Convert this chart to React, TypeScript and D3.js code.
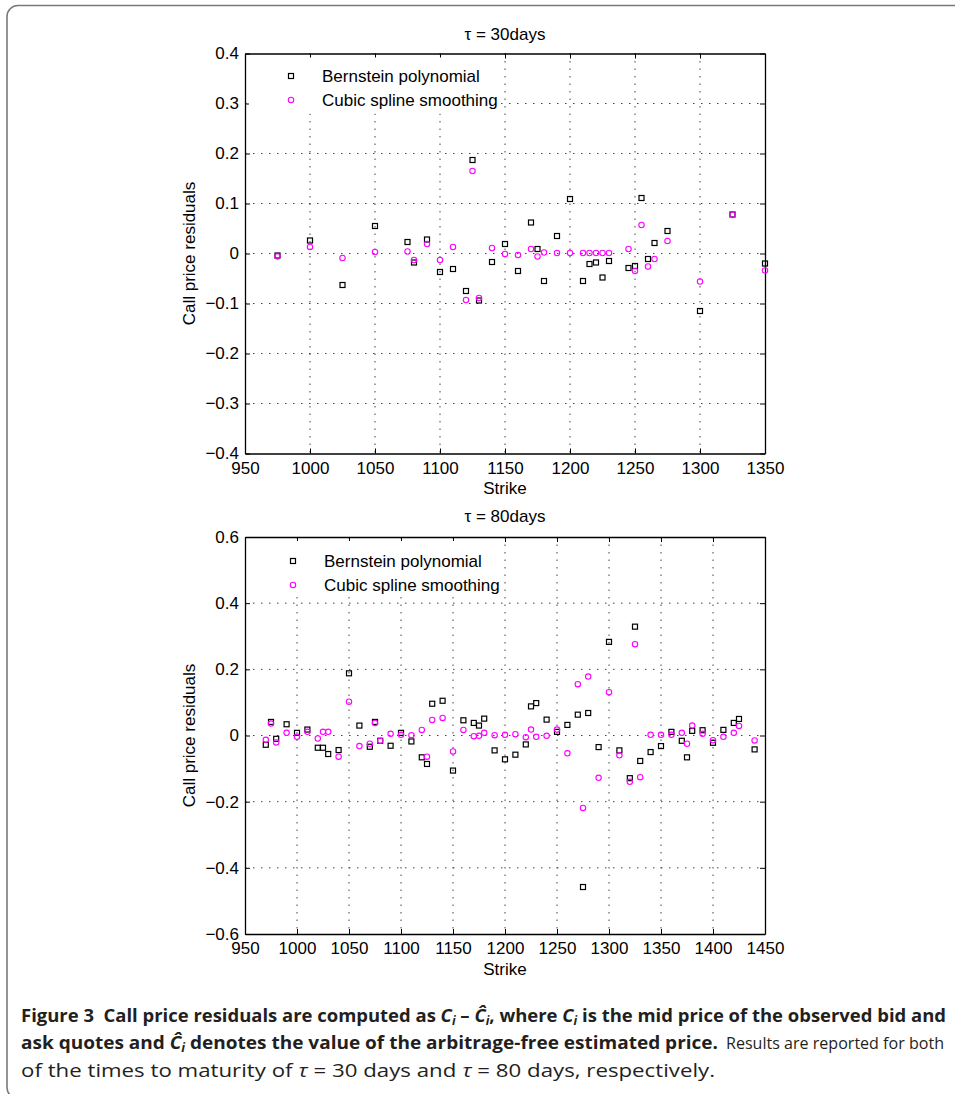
import React, { useEffect, useRef } from "react";
import * as d3 from "d3";

// tau = 30 days
const strikes30 = [975, 1000, 1025, 1050, 1075, 1080, 1090, 1100, 1110, 1120, 1125, 1130, 1140, 1150, 1160, 1170, 1175, 1180, 1190, 1200, 1210, 1215, 1220, 1225, 1230, 1245, 1250, 1255, 1260, 1265, 1275, 1300, 1325, 1350];
const bernstein30 = [-0.004, 0.026, -0.063, 0.055, 0.023, -0.018, 0.028, -0.037, -0.031, -0.075, 0.187, -0.094, -0.017, 0.019, -0.035, 0.062, 0.009, -0.055, 0.035, 0.109, -0.055, -0.021, -0.018, -0.048, -0.015, -0.029, -0.025, 0.111, -0.011, 0.021, 0.045, -0.115, 0.078, -0.02];
const spline30 = [-0.006, 0.013, -0.009, 0.003, 0.004, -0.013, 0.019, -0.013, 0.013, -0.093, 0.165, -0.089, 0.011, -0.001, -0.003, 0.009, -0.006, 0.002, 0.001, 0.001, 0.001, 0.001, 0.001, 0.001, 0.001, 0.009, -0.035, 0.057, -0.026, -0.011, 0.025, -0.056, 0.077, -0.034];
const xTicks30 = [950, 1000, 1050, 1100, 1150, 1200, 1250, 1300, 1350];
const yTicks30 = [-0.4, -0.3, -0.2, -0.1, 0, 0.1, 0.2, 0.3, 0.4];

// tau = 80 days
const strikes80 = [970, 975, 980, 990, 1000, 1010, 1020, 1025, 1030, 1040, 1050, 1060, 1070, 1075, 1080, 1090, 1100, 1110, 1120, 1125, 1130, 1140, 1150, 1160, 1170, 1175, 1180, 1190, 1200, 1210, 1220, 1225, 1230, 1240, 1250, 1260, 1270, 1275, 1280, 1290, 1300, 1310, 1320, 1325, 1330, 1340, 1350, 1360, 1370, 1375, 1380, 1390, 1400, 1410, 1420, 1425, 1440];
const bernstein80 = [-0.028, 0.041, -0.01, 0.034, 0.008, 0.018, -0.037, -0.037, -0.056, -0.044, 0.188, 0.03, -0.034, 0.041, -0.016, -0.031, 0.008, -0.018, -0.066, -0.086, 0.096, 0.105, -0.106, 0.046, 0.038, 0.03, 0.051, -0.045, -0.072, -0.058, -0.027, 0.088, 0.098, 0.048, 0.011, 0.032, 0.063, -0.458, 0.068, -0.035, 0.283, -0.045, -0.129, 0.329, -0.077, -0.05, -0.032, 0.011, -0.016, -0.066, 0.014, 0.016, -0.022, 0.017, 0.038, 0.05, -0.042];
const spline80 = [-0.013, 0.036, -0.021, 0.008, -0.004, 0.011, -0.009, 0.011, 0.011, -0.064, 0.102, -0.032, -0.025, 0.038, -0.016, 0.005, 0.002, 0.001, 0.017, -0.064, 0.047, 0.053, -0.048, 0.017, -0.002, -0.001, 0.008, 0.001, 0.002, 0.004, -0.005, 0.018, -0.004, -0.001, 0.018, -0.054, 0.155, -0.219, 0.178, -0.128, 0.131, -0.06, -0.14, 0.276, -0.126, 0.002, 0.002, 0.002, 0.008, -0.025, 0.03, 0.005, -0.014, -0.004, 0.008, 0.029, -0.015];
const xTicks80 = [950, 1000, 1050, 1100, 1150, 1200, 1250, 1300, 1350, 1400, 1450];
const yTicks80 = [-0.6, -0.4, -0.2, 0, 0.2, 0.4, 0.6];

const seriesNames = ["Bernstein polynomial", "Cubic spline smoothing"];

const FONT = "'Liberation Sans', Arial, Helvetica, sans-serif";
const CAPTION_FONT = "'Open Sans', 'Noto Sans', sans-serif";

const panels = [
  {
    title: "\u03c4 = 30days",
    strikes: strikes30,
    bern: bernstein30,
    spline: spline30,
    xTicks: xTicks30,
    yTicks: yTicks30,
    top: 53.5,
    bottom: 453.5,
    titleY: 40,
    legendY: 76,
    legendX: 291,
  },
  {
    title: "\u03c4 = 80days",
    strikes: strikes80,
    bern: bernstein80,
    spline: spline80,
    xTicks: xTicks80,
    yTicks: yTicks80,
    top: 537,
    bottom: 934,
    titleY: 522,
    legendY: 561,
    legendX: 293,
  },
];

const left = 245;
const right = 765;

function drawPanel(svg, p) {
  const x = d3.scaleLinear().domain(d3.extent(p.xTicks)).range([left, right]);
  const y = d3.scaleLinear().domain(d3.extent(p.yTicks)).range([p.bottom, p.top]);
  const g = svg.append("g").attr("font-family", FONT);

  // dotted grid
  const grid = g.append("g").attr("stroke", "#444").attr("stroke-width", 1);
  grid
    .selectAll("line.v")
    .data(p.xTicks.slice(1, -1))
    .join("line")
    .attr("class", "v")
    .attr("x1", (d) => x(d))
    .attr("x2", (d) => x(d))
    .attr("y1", p.top)
    .attr("y2", p.bottom)
    .attr("stroke-dasharray", "1.5,6");
  grid
    .selectAll("line.h")
    .data(p.yTicks.slice(1, -1))
    .join("line")
    .attr("class", "h")
    .attr("x1", left)
    .attr("x2", right)
    .attr("y1", (d) => y(d))
    .attr("y2", (d) => y(d))
    .attr("stroke-dasharray", "1.5,6.5");

  const fmt = (d) => (d === 0 ? "0" : d3.format(".1f")(d));

  const styleAxis = (sel) => {
    sel.select(".domain").attr("stroke", "#000").attr("stroke-width", 1.3);
    sel.selectAll(".tick line").attr("stroke", "#000");
    sel.selectAll(".tick text").attr("fill", "#000").attr("font-size", 17).attr("font-family", FONT);
  };

  g.append("g")
    .attr("transform", "translate(0," + p.bottom + ")")
    .call(d3.axisBottom(x).tickValues(p.xTicks).tickFormat(d3.format("d")).tickSizeInner(-5).tickSizeOuter(0).tickPadding(8))
    .call(styleAxis);
  g.append("g")
    .attr("transform", "translate(0," + p.top + ")")
    .call(d3.axisTop(x).tickValues(p.xTicks).tickFormat(() => "").tickSizeInner(-5).tickSizeOuter(0))
    .call(styleAxis);
  g.append("g")
    .attr("transform", "translate(" + left + ",0)")
    .call(d3.axisLeft(y).tickValues(p.yTicks).tickFormat(fmt).tickSizeInner(-5).tickSizeOuter(0).tickPadding(6))
    .call(styleAxis);
  g.append("g")
    .attr("transform", "translate(" + right + ",0)")
    .call(d3.axisRight(y).tickValues(p.yTicks).tickFormat(() => "").tickSizeInner(-5).tickSizeOuter(0))
    .call(styleAxis);

  // titles and labels
  g.append("text")
    .attr("x", 505)
    .attr("y", p.titleY)
    .attr("text-anchor", "middle")
    .attr("font-size", 17)
    .text(p.title);
  g.append("text")
    .attr("x", 505)
    .attr("y", p.bottom + 40.5)
    .attr("text-anchor", "middle")
    .attr("font-size", 17)
    .text("Strike");
  g.append("text")
    .attr("transform", "translate(195," + (p.top + p.bottom) / 2 + ") rotate(-90)")
    .attr("text-anchor", "middle")
    .attr("font-size", 17)
    .text("Call price residuals");

  // markers
  const sq = 5;
  g.append("g")
    .selectAll("rect")
    .data(p.strikes)
    .join("rect")
    .attr("x", (d) => x(d) - sq / 2)
    .attr("y", (d, i) => y(p.bern[i]) - sq / 2)
    .attr("width", sq)
    .attr("height", sq)
    .attr("fill", "none")
    .attr("stroke", "#000")
    .attr("stroke-width", 1.2);
  g.append("g")
    .selectAll("circle")
    .data(p.strikes)
    .join("circle")
    .attr("cx", (d) => x(d))
    .attr("cy", (d, i) => y(p.spline[i]))
    .attr("r", 2.7)
    .attr("fill", "none")
    .attr("stroke", "#ff00ff")
    .attr("stroke-width", 1.1);

  // legend
  const lg = g.append("g");
  lg.append("rect")
    .attr("x", left + 4)
    .attr("y", p.top + 4)
    .attr("width", 250)
    .attr("height", 56)
    .attr("fill", "#fff");
  seriesNames.forEach((name, i) => {
    const ly = p.legendY + i * 24;
    if (i === 0) {
      lg.append("rect")
        .attr("x", p.legendX - sq / 2)
        .attr("y", ly - sq / 2)
        .attr("width", sq)
        .attr("height", sq)
        .attr("fill", "none")
        .attr("stroke", "#000")
        .attr("stroke-width", 1.2);
    } else {
      lg.append("circle")
        .attr("cx", p.legendX)
        .attr("cy", ly)
        .attr("r", 2.7)
        .attr("fill", "none")
        .attr("stroke", "#ff00ff")
        .attr("stroke-width", 1.1);
    }
    lg.append("text")
      .attr("x", p.legendX + 31)
      .attr("y", ly + 6)
      .attr("font-size", 17)
      .text(name);
  });
}

// italic C with a lowered subscript i, followed by the rest of the phrase
const Ci = ({ hat, after }) => (
  <>
    <tspan fontStyle="italic">{hat ? "\u0108" : "C"}</tspan>
    <tspan fontStyle="italic" fontSize="12" dy="3">
      i
    </tspan>
    <tspan dy="-3">{after}</tspan>
  </>
);

const App = () => {
  const svgEl = useRef(null);

  useEffect(() => {
    if (!svgEl.current) return;
    const svg = d3.select(svgEl.current).select("g.panels");
    svg.selectAll("*").remove();
    panels.forEach((p) => drawPanel(svg, p));
  }, [svgEl]);

  return (
    <div style={{ position: "absolute", left: 0, top: 0 }}>
      <svg ref={svgEl} width={955} height={1094} style={{ display: "block" }}>
        <rect x={7} y={5.5} width={970} height={1093} rx={11} fill="#fff" stroke="#7a7a7a" strokeWidth={1.6} />
        <g className="panels"></g>
        <g fontFamily={CAPTION_FONT} fontSize={18} fill="#231f20">
          <text x={21} y={1021.5} fontWeight="bold" textLength={925} lengthAdjust="spacingAndGlyphs">
            {"Figure 3\u00a0 Call price residuals are computed as "}
            <Ci after={" \u2013 "} />
            <Ci hat after=", where " />
            <Ci after=" is the mid price of the observed bid and" />
          </text>
          <text x={21} y={1049} fontWeight="bold" textLength={697} lengthAdjust="spacingAndGlyphs">
            {"ask quotes and "}
            <Ci hat after=" denotes the value of the arbitrage-free estimated price." />
          </text>
          <text x={726} y={1049} fontSize={16.5} textLength={218} lengthAdjust="spacingAndGlyphs">
            Results are reported for both
          </text>
          <text x={21} y={1076.5} textLength={694} lengthAdjust="spacingAndGlyphs">
            of the times to maturity of <tspan fontStyle="italic">{"\u03c4"}</tspan> = 30 days and{" "}
            <tspan fontStyle="italic">{"\u03c4"}</tspan> = 80 days, respectively.
          </text>
        </g>
      </svg>
    </div>
  );
};

export default App;
